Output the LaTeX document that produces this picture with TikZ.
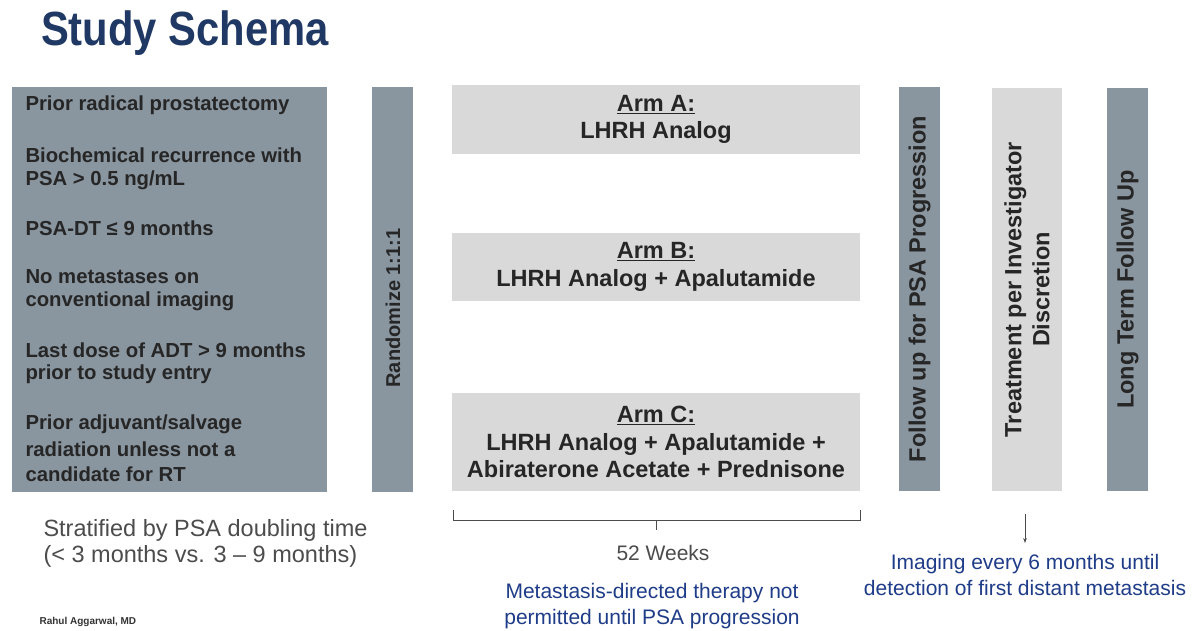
\documentclass[tikz,border=0pt]{standalone}
\usepackage{fontspec}
\setmainfont{Liberation Sans}
\usetikzlibrary{arrows.meta}
\begin{document}
\begin{tikzpicture}[x=1pt,y=-1pt,
 dark/.style={fill=boxd,draw=none},
 light/.style={fill=boxl,draw=none},
 bt/.style={font=\fontsize{20.3}{24}\selectfont\bfseries,text=black!85},
 armtxt/.style={font=\fontsize{23.5}{27.5}\selectfont\bfseries,text=black!85,align=center},
 vt/.style={font=\fontsize{23.5}{28}\selectfont\bfseries,text=black!85,rotate=90,align=center},
 gt/.style={font=\fontsize{23.5}{26}\selectfont,text=black!70},
 blt/.style={font=\fontsize{21}{26}\selectfont,text=blu,align=center}]
\definecolor{boxd}{HTML}{89959F}
\definecolor{boxl}{HTML}{D9D9D9}
\definecolor{ttl}{HTML}{1F3864}
\definecolor{blu}{HTML}{1F3C88}
\useasboundingbox (0,0) rectangle (1200,630);
\fill[white] (0,0) rectangle (1200,630);
\node[anchor=west,font=\fontsize{48}{52}\selectfont\bfseries,text=ttl,xscale=0.87] (title) at (38,33) {Study Schema};
\fill[dark] (12,87) rectangle (327,492);
\foreach \t/\y in {{Prior radical prostatectomy}/105,{Biochemical recurrence with}/155,{PSA > 0.5 ng/mL}/180,{PSA-DT ≤ 9 months}/228,{No metastases on}/277,{conventional imaging}/301,{Last dose of ADT > 9 months}/350,{prior to study entry}/374,{Prior adjuvant/salvage}/424,{radiation unless not a}/449,{candidate for RT}/474}
 \node[bt,anchor=west] at (22,\y) {\t};
\node[dark,minimum width=41,minimum height=405] (rand) at (392.5,289.5) {};
\node[vt,font=\fontsize{20}{24}\selectfont\bfseries] at (393,308) {Randomize 1:1:1};
\node[light,minimum width=408,minimum height=69] (a) at (656,119.5) {};
\node[armtxt] at (a) {\underline{Arm A:}\\LHRH Analog};
\node[light,minimum width=408,minimum height=68] (b) at (656,267) {};
\node[armtxt] at (b) {\underline{Arm B:}\\LHRH Analog + Apalutamide};
\node[light,minimum width=408,minimum height=98] (c) at (656,442) {};
\node[armtxt] at (c) {\underline{Arm C:}\\LHRH Analog + Apalutamide +\\Abiraterone Acetate + Prednisone};
\node[dark,minimum width=41,minimum height=404] (f) at (919.5,289) {};
\node[vt] at (f) {Follow up for PSA Progression};
\node[light,minimum width=70,minimum height=403] (t) at (1027,289.5) {};
\node[vt] at (t) {Treatment per Investigator\\Discretion};
\node[dark,minimum width=41,minimum height=403] (l) at (1127.5,289.5) {};
\node[vt] at (l) {Long Term Follow Up};
\node[gt,anchor=west,align=left] (strat) at (40,543) {Stratified by PSA doubling time\\(< 3 months vs. 3 -- 9 months)};
\coordinate (b1) at (453,510); \coordinate (b2) at (860,510);
\draw[black!70,line width=0.8] (b1) -- ++(0,10) -- (656,520) -- ++(0,10) (656,520) -- (860,520) -- (b2);
\node[gt,font=\fontsize{21}{26}\selectfont] (wk) at (663,553) {52 Weeks};
\node[blt] (met) at (652,606) {Metastasis-directed therapy not\\permitted until PSA progression};
\coordinate (ar1) at (1025,514);
\coordinate (ar2) at (1025,543);
\draw[black!70,line width=1,-{Stealth[length=5pt]}] (ar1) -- (ar2);
\node[blt] (img) at (1025,575) {Imaging every 6 months until\\detection of first distant metastasis};
\node[anchor=west,font=\fontsize{10}{12}\selectfont\bfseries,text=black!80] (auth) at (36,622) {Rahul Aggarwal, MD};
\end{tikzpicture}
\end{document}
